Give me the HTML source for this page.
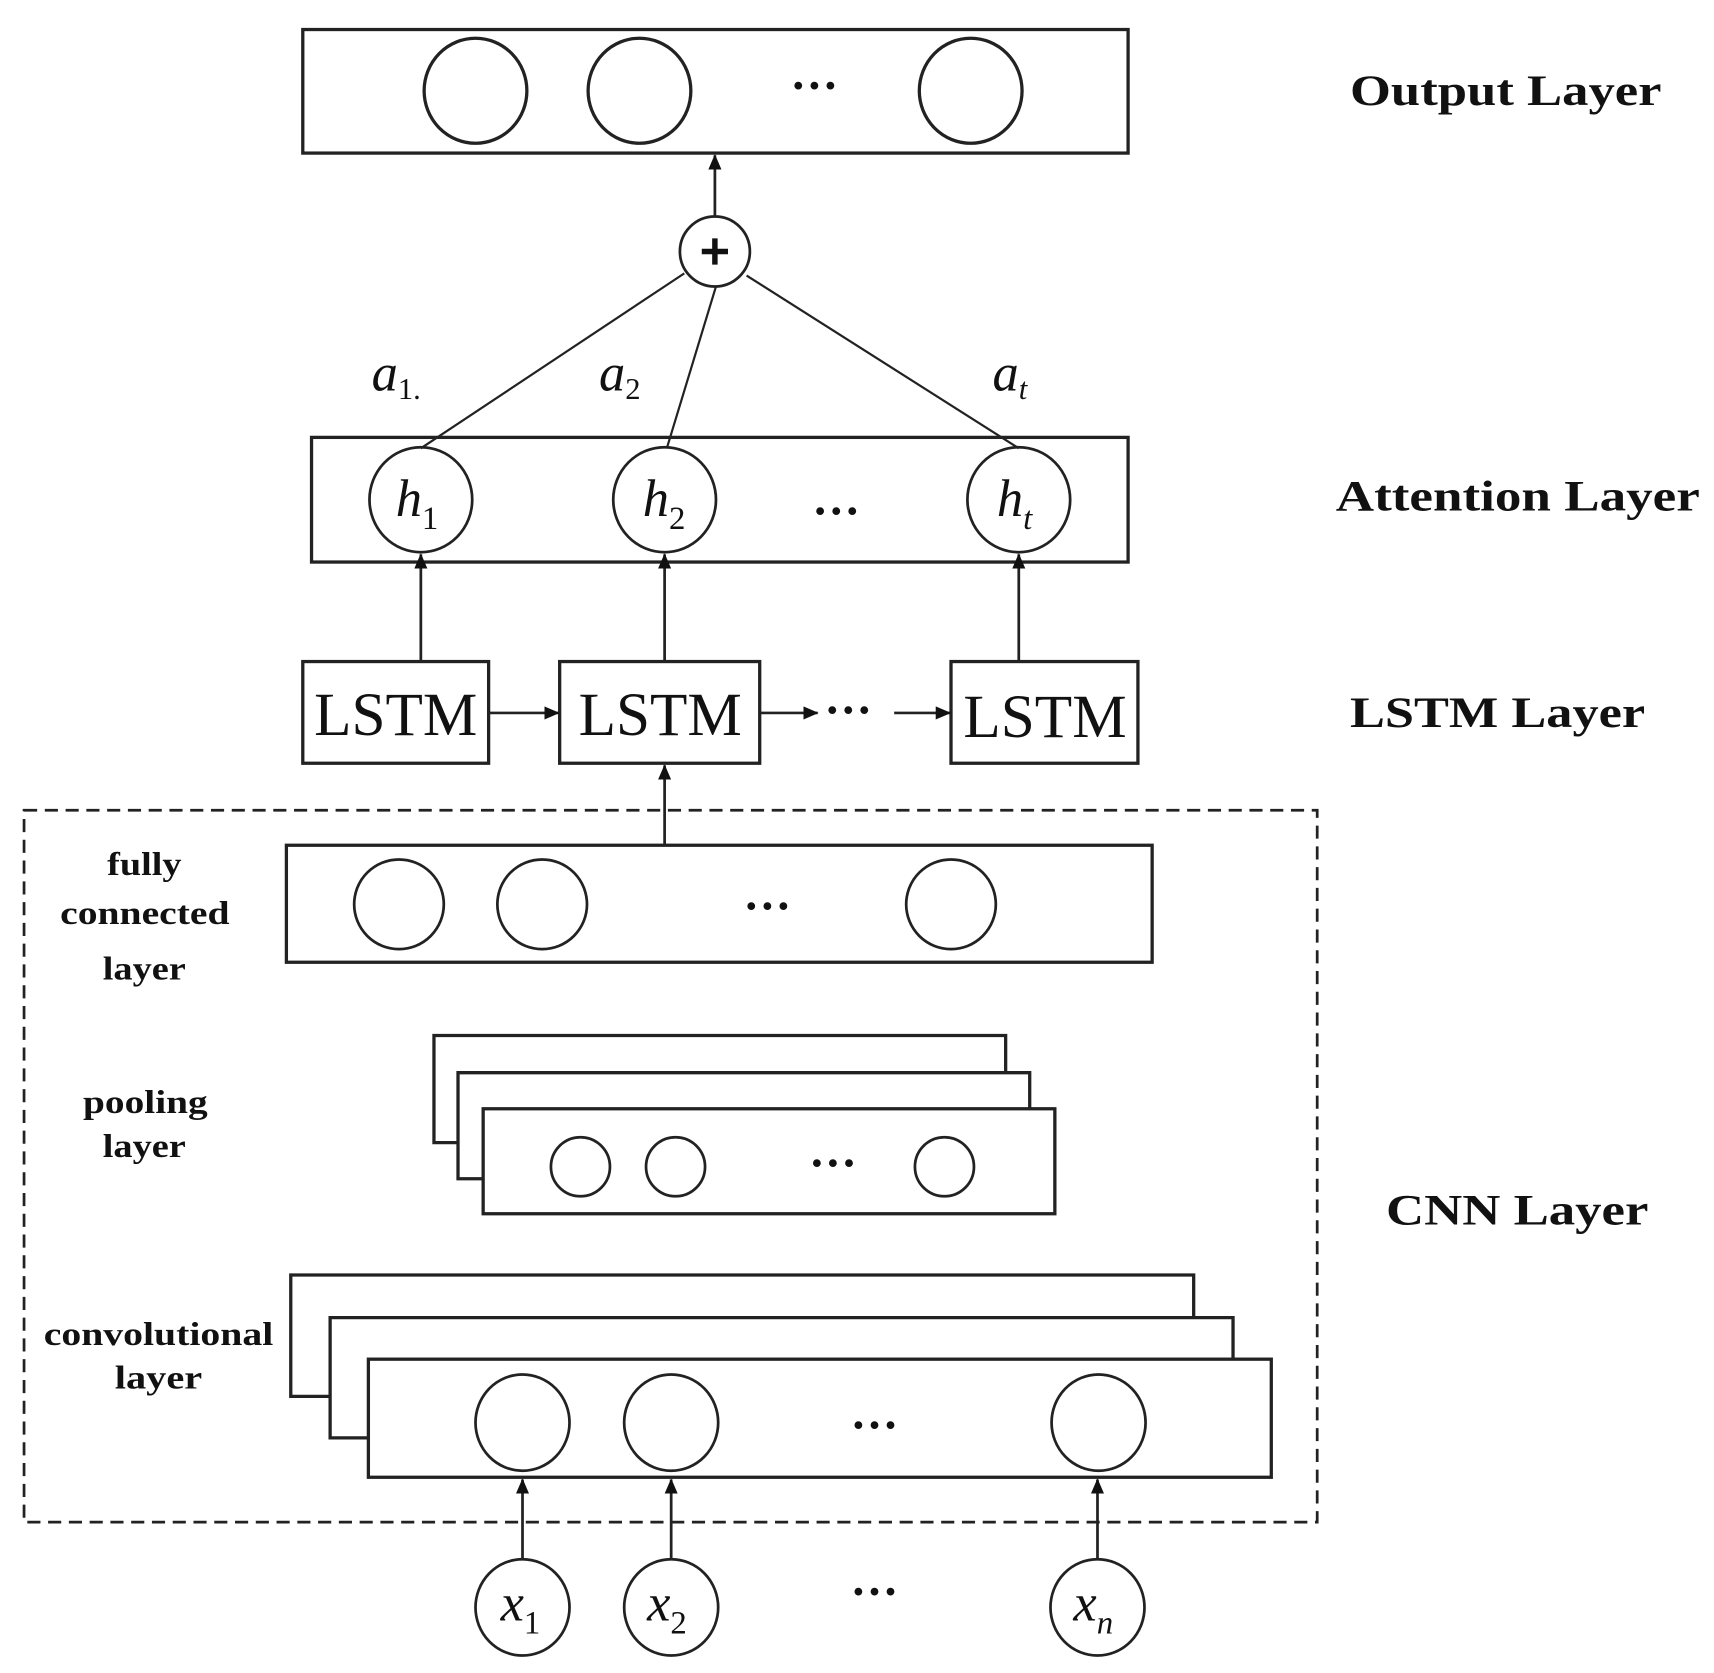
<!DOCTYPE html>
<html><head><meta charset="utf-8"><style>
html,body{margin:0;padding:0;background:#fff;}
svg{display:block;}
.b{font-family:"Liberation Serif",serif;font-weight:bold;fill:#111;}
.i{font-family:"Liberation Serif",serif;font-style:italic;fill:#111;}
.r{font-family:"Liberation Serif",serif;fill:#111;}
</style></head><body>
<svg width="1714" height="1673" viewBox="0 0 1568 1530" preserveAspectRatio="none" xmlns="http://www.w3.org/2000/svg">
<defs><marker id="au" markerWidth="14" markerHeight="14" refX="13" refY="6" orient="auto" markerUnits="userSpaceOnUse"><path d="M0,0 L14,6 L0,12 z" fill="#111"/></marker></defs>
<g stroke="#222" stroke-width="3" fill="none">
<rect x="277" y="27" width="755" height="113"/>
<ellipse cx="435" cy="83" rx="47" ry="48"/><ellipse cx="585" cy="83" rx="47" ry="48"/><ellipse cx="888" cy="83" rx="47" ry="48"/>
<line x1="654" y1="198" x2="654" y2="142" stroke-width="2.5" marker-end="url(#au)"/>
<circle cx="654" cy="230" r="32" stroke-width="2.5"/>
<line x1="626" y1="250" x2="385" y2="410" stroke-width="2"/>
<line x1="655" y1="262" x2="610" y2="410" stroke-width="2"/>
<line x1="683" y1="252" x2="932" y2="410" stroke-width="2"/>
<rect x="285" y="400" width="747" height="114"/>
<ellipse cx="385" cy="457" rx="47" ry="48" stroke-width="2.5"/><ellipse cx="608" cy="457" rx="47" ry="48" stroke-width="2.5"/><ellipse cx="932" cy="457" rx="47" ry="48" stroke-width="2.5"/>
<line x1="385" y1="605" x2="385" y2="507" stroke-width="2.5" marker-end="url(#au)"/>
<line x1="608" y1="605" x2="608" y2="507" stroke-width="2.5" marker-end="url(#au)"/>
<line x1="932" y1="605" x2="932" y2="507" stroke-width="2.5" marker-end="url(#au)"/>
<rect x="277" y="605" width="170" height="93"/>
<rect x="512" y="605" width="183" height="93"/>
<rect x="870" y="605" width="171" height="93"/>
<line x1="447" y1="652" x2="511" y2="652" stroke-width="2.5" marker-end="url(#au)"/>
<line x1="695" y1="652" x2="748" y2="652" stroke-width="2.5" marker-end="url(#au)"/>
<line x1="818" y1="652" x2="869" y2="652" stroke-width="2.5" marker-end="url(#au)"/>
<rect x="22" y="741" width="1183" height="651" stroke-dasharray="12,7" stroke-width="2.5"/>
<line x1="608" y1="773" x2="608" y2="700" stroke-width="2.5" marker-end="url(#au)"/>
<rect x="262" y="773" width="792" height="107"/>
<circle cx="365" cy="827" r="41" stroke-width="2.5"/><circle cx="496" cy="827" r="41" stroke-width="2.5"/><circle cx="870" cy="827" r="41" stroke-width="2.5"/>
<path d="M419 1045 H397 V947 H920 V981"/>
<path d="M442 1078 H419 V981 H942 V1014"/>
<rect x="442" y="1014" width="523" height="96" fill="#fff"/>
<circle cx="531" cy="1067" r="27" stroke-width="2.5"/><circle cx="618" cy="1067" r="27" stroke-width="2.5"/><circle cx="864" cy="1067" r="27" stroke-width="2.5"/>
<path d="M302 1277 H266 V1166 H1092 V1205"/>
<path d="M337 1315 H302 V1205 H1128 V1243"/>
<rect x="337" y="1243" width="826" height="108" fill="#fff"/>
<ellipse cx="478" cy="1301" rx="43" ry="44" stroke-width="2.5"/><ellipse cx="614" cy="1301" rx="43" ry="44" stroke-width="2.5"/><ellipse cx="1005" cy="1301" rx="43" ry="44" stroke-width="2.5"/>
<ellipse cx="478" cy="1470" rx="43" ry="44" stroke-width="2.5"/><ellipse cx="614" cy="1470" rx="43" ry="44" stroke-width="2.5"/><ellipse cx="1004" cy="1470" rx="43" ry="44" stroke-width="2.5"/>
<line x1="478" y1="1426" x2="478" y2="1353" stroke-width="2.5" marker-end="url(#au)"/>
<line x1="614" y1="1426" x2="614" y2="1353" stroke-width="2.5" marker-end="url(#au)"/>
<line x1="1004" y1="1426" x2="1004" y2="1353" stroke-width="2.5" marker-end="url(#au)"/>
</g>
<path d="M642 230 H666 M654 218 V242" stroke="#111" stroke-width="5"/>
<g class="r" font-size="44" font-weight="bold" text-anchor="middle">
<text x="745" y="93">···</text><text x="765" y="482">···</text><text x="702" y="843">···</text><text x="762" y="1078">···</text><text x="800" y="1318">···</text><text x="800" y="1470">···</text><text x="776" y="664">···</text>
</g>
<g class="r" font-size="56" text-anchor="middle">
<text x="362" y="672">LSTM</text><text x="604" y="672">LSTM</text><text x="956" y="674">LSTM</text>
</g>
<g class="i" font-size="48">
<text x="340" y="357">a<tspan font-size="28" font-style="normal" dy="8">1.</tspan></text>
<text x="548" y="357">a<tspan font-size="28" font-style="normal" dy="8">2</tspan></text>
<text x="908" y="357">a<tspan font-size="28" dy="8">t</tspan></text>
<text x="362" y="472">h<tspan font-size="30" font-style="normal" dy="12">1</tspan></text>
<text x="588" y="472">h<tspan font-size="30" font-style="normal" dy="12">2</tspan></text>
<text x="912" y="472">h<tspan font-size="30" dy="12">t</tspan></text>
<text x="458" y="1482">x<tspan font-size="30" font-style="normal" dy="12">1</tspan></text>
<text x="592" y="1482">x<tspan font-size="30" font-style="normal" dy="12">2</tspan></text>
<text x="982" y="1482">x<tspan font-size="30" dy="12">n</tspan></text>
</g>
<g class="b" font-size="40">
<text x="1235" y="96" textLength="285" lengthAdjust="spacingAndGlyphs">Output Layer</text>
<text x="1222" y="467" textLength="333" lengthAdjust="spacingAndGlyphs">Attention Layer</text>
<text x="1235" y="665" textLength="270" lengthAdjust="spacingAndGlyphs">LSTM Layer</text>
<text x="1268" y="1120" textLength="240" lengthAdjust="spacingAndGlyphs">CNN Layer</text>
</g>
<g class="b" font-size="30">
<text x="98" y="800" textLength="68" lengthAdjust="spacingAndGlyphs">fully</text>
<text x="55" y="845" textLength="155" lengthAdjust="spacingAndGlyphs">connected</text>
<text x="94" y="896" textLength="76" lengthAdjust="spacingAndGlyphs">layer</text>
<text x="76" y="1018" textLength="114" lengthAdjust="spacingAndGlyphs">pooling</text>
<text x="94" y="1058" textLength="76" lengthAdjust="spacingAndGlyphs">layer</text>
<text x="40" y="1230" textLength="210" lengthAdjust="spacingAndGlyphs">convolutional</text>
<text x="105" y="1270" textLength="80" lengthAdjust="spacingAndGlyphs">layer</text>
</g>
</svg>
</body></html>
